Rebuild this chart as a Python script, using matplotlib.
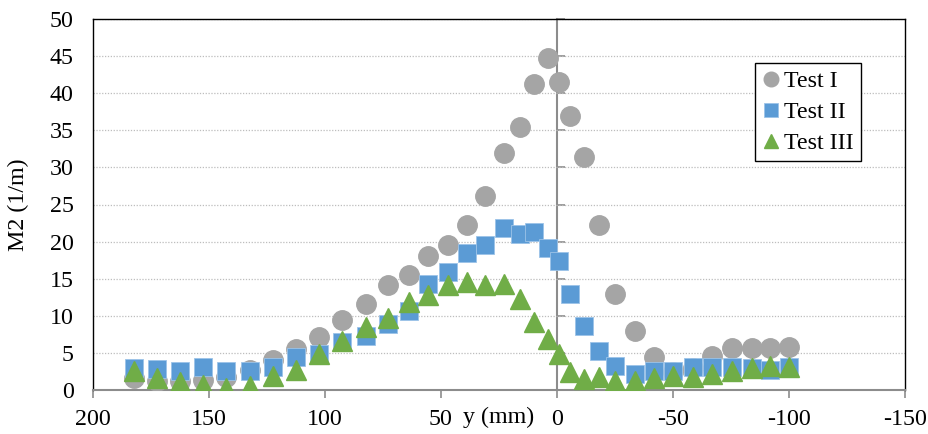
import numpy as np
import matplotlib
matplotlib.use("Agg")
import matplotlib.pyplot as plt

plt.rcParams['font.family'] = ['Liberation Serif', 'DejaVu Serif']
plt.rcParams['font.size'] = 17.3
plt.rcParams['axes.unicode_minus'] = False

# DATA
##############################################################################
y_pos = [182.5, 172.5, 162.5, 152.5, 142.5, 132.5, 122.5, 112.5, 102.5, 92.5,
         82.5, 73, 64, 55.5, 47, 39, 31, 23, 16, 10,
         4, -1, -5.5, -11.5, -18, -25, -33.5, -42, -50, -58.5,
         -67, -75.5, -84, -92, -100]

test_1 = [1.6, 1.2, 1.2, 1.4, 1.8, 2.7, 4.0, 5.5, 7.2, 9.4,
          11.6, 14.2, 15.5, 18.1, 19.5, 22.2, 26.1, 31.9, 35.4, 41.2,
          44.7, 41.5, 36.9, 31.4, 22.2, 12.9, 8.0, 4.4, 2.4, 2.9,
          4.6, 5.6, 5.7, 5.7, 5.8]

test_2 = [2.9, 2.8, 2.6, 3.1, 2.5, 2.6, 3.1, 4.5, 4.9, 6.5,
          7.3, 8.9, 10.6, 14.3, 15.9, 18.4, 19.6, 21.8, 21.0, 21.3,
          19.1, 17.4, 13.0, 8.6, 5.3, 3.3, 2.1, 2.5, 2.6, 3.1,
          3.1, 3.1, 3.0, 2.65, 3.1]

test_3 = [2.5, 1.6, 1.1, 0.7, 0.3, 0.5, 1.9, 2.7, 4.9, 6.6,
          8.5, 9.7, 11.8, 12.8, 14.2, 14.6, 14.2, 14.3, 12.2, 9.1,
          6.9, 4.9, 2.4, 1.5, 1.7, 1.25, 1.25, 1.6, 1.85, 1.7,
          2.15, 2.5, 2.9, 3.3, 3.1]

x_ticks = [200, 150, 100, 50, 0, -50, -100, -150]
y_ticks = list(range(0, 51, 5))

# PLOT
##############################################################################
fig = plt.figure(figsize=(9.29, 4.34), dpi=100)
ax = fig.add_axes([93/929, 1 - 390/434, 812/929, 371/434])

axis_grey = '#8c8c8c'

ax.plot(y_pos, test_1, 'o', ms=14, color='#A5A5A5', mec='#A5A5A5', label='Test I', zorder=3)
ax.plot(y_pos, test_2, 's', ms=13.5, color='#5B9BD5', mec='#9cc3e8', mew=0.6, label='Test II', zorder=4)
ax.plot(y_pos, test_3, '^', ms=14, color='#70AD47', mec='#70AD47', label='Test III', zorder=5)

ax.set_xlim(200, -150)
ax.set_ylim(0, 50)
ax.set_xticks(x_ticks)
ax.set_yticks(y_ticks)

ax.yaxis.grid(True, linestyle=(0, (1, 1.3)), color='#bdbdbd', lw=0.9)
ax.set_axisbelow(True)

for side in ['top', 'right', 'left']:
    ax.spines[side].set_color('black')
    ax.spines[side].set_linewidth(1.0)
ax.spines['bottom'].set_color(axis_grey)
ax.spines['bottom'].set_linewidth(1.5)

ax.tick_params(axis='x', direction='out', length=6, width=1.2, color=axis_grey, pad=8)
ax.tick_params(axis='y', length=0, pad=14)

# vertical axis line crossing at y = 0 mm
sec = ax.secondary_yaxis(0, transform=ax.transData)
sec.spines['left'].set_color(axis_grey)
sec.spines['left'].set_linewidth(1.5)
sec.set_yticks(y_ticks)
sec.tick_params(direction='in', length=6, width=1.2, color=axis_grey, labelleft=False)

ax.set_ylabel('M2 (1/m)', labelpad=15)
ax.set_xlabel('y (mm)')
ax.xaxis.set_label_coords(0.5, -0.045)

leg = ax.legend(loc='upper right', bbox_to_anchor=(0.946, 0.881), borderaxespad=0,
                fancybox=False, framealpha=1, edgecolor='black', handlelength=0.7,
                handletextpad=0.2, borderpad=0.3, labelspacing=0.38, markerscale=0.75)
leg.get_frame().set_linewidth(1.0)

fig.savefig('out.png', dpi=100)
